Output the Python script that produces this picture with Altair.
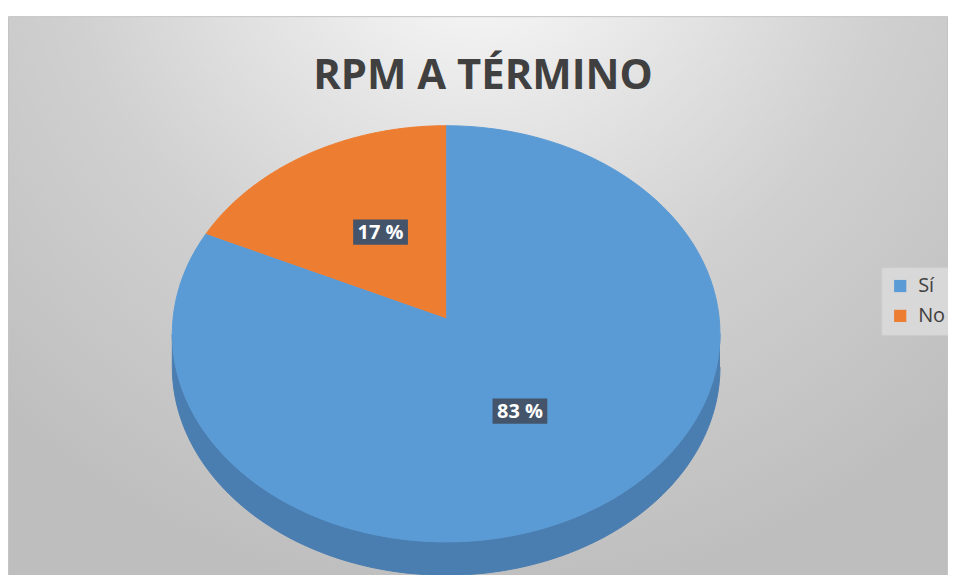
import altair as alt
import pandas as pd

# ---- data ----
categories = ["Sí", "No"]
values = [83, 17]
top_colors = ["#5B9BD5", "#ED7D31"]
side_colors = ["#4A7DB0", "#C0652A"]
title_text = "RPM A TÉRMINO"

# ---- layout constants (pixels / style) ----
W, H = 944, 567
XR = [165, 715]      # ellipse left/right in chart px
YR = [535, 117]      # ellipse bottom/top in chart px
APEX = 0.077         # apex offset (perspective)
DEPTH = 0.16         # 3D depth in y data units
N = 120

df = pd.DataFrame({"cat": categories, "value": values})

x_scale = alt.Scale(domain=[-1, 1], range=XR)
y_scale = alt.Scale(domain=[-1, 1], range=YR)

base = alt.Chart(df).transform_window(
    cum="sum(value)", frame=[None, 0]
).transform_joinaggregate(
    total="sum(value)"
).transform_calculate(
    start="2*PI*(datum.cum - datum.value)/datum.total",
    end="2*PI*datum.cum/datum.total",
)

# background with radial gradient
bg = alt.Chart(pd.DataFrame({"a": [0]})).mark_rect(
    fill={
        "gradient": "radial",
        "x1": 0.5, "y1": 0.08, "r1": 0,
        "x2": 0.5, "y2": 0.08, "r2": 0.74,
        "stops": [
            {"offset": 0, "color": "#ffffff"},
            {"offset": 0.3, "color": "#e6e6e6"},
            {"offset": 0.6, "color": "#d0d0d0"},
            {"offset": 1, "color": "#bebebe"},
        ],
    },
    stroke="#c4c4c4",
    strokeWidth=1,
).encode(
    x=alt.value(0.5), x2=alt.value(943.5), y=alt.value(7.5), y2=alt.value(580)
)

# side walls (front half only), drawn as closed polygons
side = base.transform_calculate(
    cs="max(datum.start, PI/2)", ce="min(datum.end, 3*PI/2)"
).transform_filter(
    "datum.ce > datum.cs"
).transform_calculate(
    pts=f"sequence(0, {2 * N + 2})"
).transform_flatten(["pts"]).transform_calculate(
    a=(f"datum.pts <= {N} ? datum.cs + (datum.ce - datum.cs) * datum.pts / {N}"
       f" : datum.ce - (datum.ce - datum.cs) * (datum.pts - {N + 1}) / {N}")
).transform_calculate(
    px="sin(datum.a)",
    py=f"datum.pts <= {N} ? cos(datum.a) : cos(datum.a) - {DEPTH}",
).mark_line(strokeWidth=1, fillOpacity=1).encode(
    x=alt.X("px:Q", scale=x_scale, axis=None),
    y=alt.Y("py:Q", scale=y_scale, axis=None, stack=False),
    fill=alt.Fill("cat:N", scale=alt.Scale(domain=categories, range=side_colors), legend=None),
    stroke=alt.Stroke("cat:N", scale=alt.Scale(domain=categories, range=side_colors), legend=None),
    order=alt.Order("pts:Q"),
)

# top faces
top = base.transform_calculate(
    pts=f"sequence(-1, {N + 1})"
).transform_flatten(["pts"]).transform_calculate(
    a=f"datum.start + (datum.end - datum.start) * max(datum.pts, 0) / {N}"
).transform_calculate(
    px="datum.pts < 0 ? 0 : sin(datum.a)",
    py=f"datum.pts < 0 ? {APEX} : cos(datum.a)",
).mark_line(strokeWidth=1, fillOpacity=1).encode(
    x=alt.X("px:Q", scale=x_scale, axis=None),
    y=alt.Y("py:Q", scale=y_scale, axis=None, stack=False),
    fill=alt.Fill(
        "cat:N",
        scale=alt.Scale(domain=categories, range=top_colors),
        legend=alt.Legend(
            orient="none", legendX=877, legendY=259, title=None,
            symbolType="square", symbolSize=150, symbolStrokeWidth=0,
            labelFont="Open Sans", labelFontSize=20, labelColor="#404040",
            padding=9, rowPadding=10, labelOffset=8,
            fillColor="#d8d8d8", strokeColor="#cdcdcd",
        ),
    ),
    stroke=alt.Stroke("cat:N", scale=alt.Scale(domain=categories, range=top_colors), legend=None),
    order=alt.Order("pts:Q"),
)

# labels
lab = base.transform_calculate(
    mid="(datum.start + datum.end) / 2"
).transform_calculate(
    lx="0.5 * sin(datum.mid) + 0.015",
    ly=f"{APEX} + 0.5 * (cos(datum.mid) - {APEX}) + 0.02",
    label="datum.value + ' %'",
)
boxes = lab.mark_point(
    shape="M-1,-0.46L1,-0.46L1,0.46L-1,0.46Z", filled=True, size=3025,
    color="#44546A", opacity=1,
).encode(
    x=alt.X("lx:Q", scale=x_scale, axis=None),
    y=alt.Y("ly:Q", scale=y_scale, axis=None),
)
texts = lab.mark_text(
    font="Open Sans", fontSize=20, fontWeight="bold", color="#ffffff",
    baseline="middle", dy=1,
).encode(
    x=alt.X("lx:Q", scale=x_scale, axis=None),
    y=alt.Y("ly:Q", scale=y_scale, axis=None),
    text="label:N",
)

title = alt.Chart(pd.DataFrame({"t": [title_text]})).mark_text(
    font="Open Sans", fontSize=42, fontWeight="bold", color="#404040",
    align="center", baseline="alphabetic",
).encode(x=alt.value(477), y=alt.value(80), text="t:N")

chart = alt.layer(bg, side, top, boxes, texts, title).resolve_scale(
    fill="independent", stroke="independent"
).properties(
    width=W, height=H, padding=0, autosize=alt.AutoSizeParams(type="none"),
    background="#ffffff",
).configure_view(strokeWidth=0)

chart.save("out.html", embed_options={"renderer": "svg", "actions": False})
